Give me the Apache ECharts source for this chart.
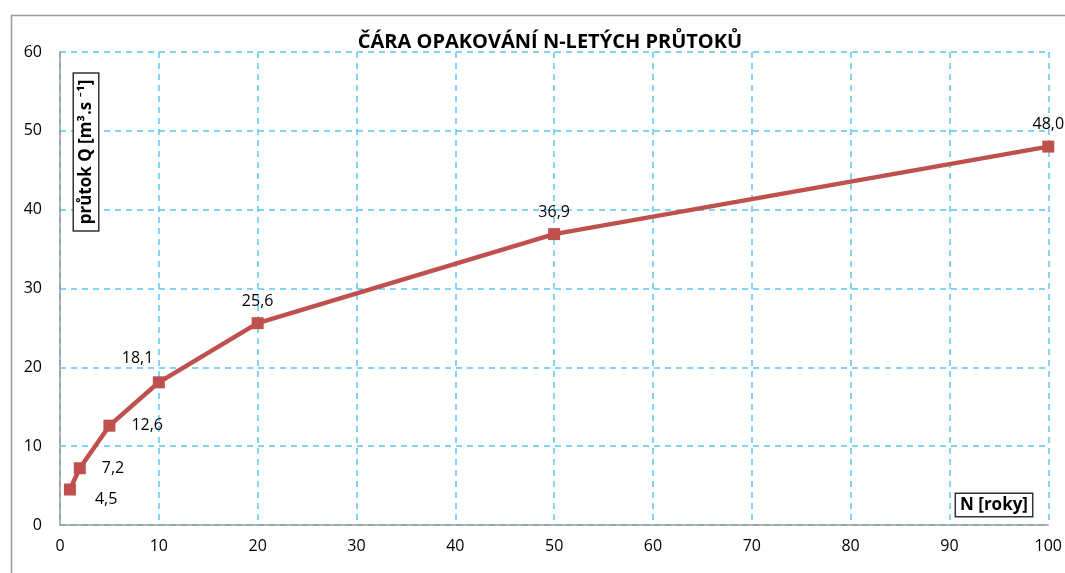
<!DOCTYPE html>
<html lang="cs" style="height: 100%">
<head>
  <meta charset="utf-8">
</head>
<body style="height: 100%; margin: 0; background: #fff">
  <div id="container" style="height: 100%"></div>
  <script type="text/javascript" src="https://fastly.jsdelivr.net/npm/echarts@6.0.0/dist/echarts.min.js"></script>
  <script type="text/javascript">
    // N (roky) a průtok Q
    var years = [1, 2, 5, 10, 20, 50, 100];
    var flows = [4.5, 7.2, 12.6, 18.1, 25.6, 36.9, 48.0];
    var labelPos = ['bottomRight', 'right', 'right', 'topLeft', 'top', 'top', 'top'];

    var dom = document.getElementById('container');
    var myChart = echarts.init(dom, null, { renderer: 'canvas' });

    var font = '"Open Sans", Lato, sans-serif';
    var points = years.map(function (n, i) {
      var pos = labelPos[i];
      var label = { position: pos === 'bottomRight' || pos === 'topLeft' ? 'right' : pos };
      if (pos === 'bottomRight') label.offset = [14, 10];
      if (pos === 'topLeft') label.offset = [-48, -24];
      if (pos === 'right') label.distance = 16;
      if (pos === 'top') label.distance = 8;
      return { value: [n, flows[i]], label: label };
    });

    var option = {
      backgroundColor: '#fff',
      animation: false,
      title: {
        text: 'ČÁRA OPAKOVÁNÍ N-LETÝCH PRŮTOKŮ',
        left: 545,
        textAlign: 'center',
        top: 27,
        textStyle: { fontFamily: font, fontSize: 20, fontWeight: 'bold', color: '#000' }
      },
      grid: { left: 60, right: 16, top: 52, bottom: 48 },
      xAxis: {
        type: 'value',
        min: 0,
        max: 100,
        interval: 10,
        axisLine: { show: true, lineStyle: { color: '#999', width: 1.5 } },
        axisTick: { show: false },
        axisLabel: { color: '#000', fontFamily: font, fontSize: 16, margin: 13 },
        splitLine: { show: true, lineStyle: { color: '#5CC6F2', type: [6, 5], width: 1.5 } }
      },
      yAxis: {
        type: 'value',
        min: 0,
        max: 60,
        interval: 10,
        axisLine: { show: true, lineStyle: { color: '#999', width: 1.5 } },
        axisTick: { show: false },
        axisLabel: { color: '#000', fontFamily: font, fontSize: 16, margin: 18 },
        splitLine: { show: true, lineStyle: { color: '#5CC6F2', type: [6, 5], width: 1.5 } }
      },
      graphic: [
        {
          type: 'rect',
          left: 9,
          top: 13,
          silent: true,
          shape: { width: 1100, height: 600 },
          style: { fill: 'none', stroke: '#999', lineWidth: 1.5 }
        },
        {
          type: 'text',
          x: 86,
          y: 152,
          rotation: Math.PI / 2,
          silent: true,
          style: {
            text: 'průtok Q [m³.s ⁻¹]',
            font: 'bold 17px ' + font,
            fill: '#000',
            align: 'center',
            verticalAlign: 'middle',
            backgroundColor: '#fff',
            borderColor: '#333',
            borderWidth: 1.5,
            padding: [4, 6, 3, 6]
          },
          z: 100
        },
        {
          type: 'text',
          x: 994,
          y: 505,
          silent: true,
          style: {
            text: 'N [roky]',
            font: 'bold 17px ' + font,
            fill: '#000',
            align: 'center',
            verticalAlign: 'middle',
            backgroundColor: '#fff',
            borderColor: '#333',
            borderWidth: 1.5,
            padding: [3, 4, 2, 4]
          },
          z: 100
        }
      ],
      series: [
        {
          type: 'line',
          data: points,
          symbol: 'rect',
          symbolSize: 12,
          lineStyle: { color: '#C0504D', width: 4.5 },
          itemStyle: { color: '#C0504D' },
          label: {
            show: true,
            color: '#000',
            fontFamily: font,
            fontSize: 16,
            formatter: function (p) { return p.value[1].toFixed(1).replace('.', ','); }
          }
        }
      ]
    };

    myChart.setOption(option);
    window.addEventListener('resize', myChart.resize);
  </script>
</body>
</html>
